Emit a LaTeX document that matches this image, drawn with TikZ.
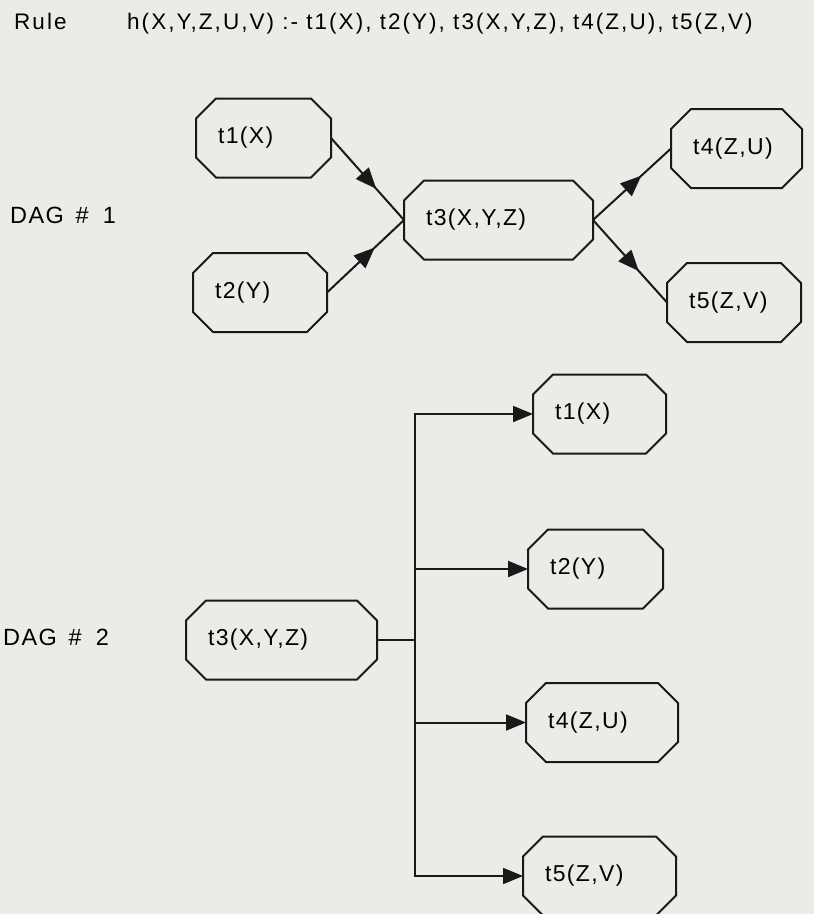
\documentclass[tikz,border=0pt]{standalone}
\usepackage{fontspec}
\setmainfont{Liberation Sans}
\newfontfamily\headface[LetterSpace=9]{Liberation Sans}
\newfontfamily\termface[LetterSpace=6]{Liberation Sans}
\usetikzlibrary{arrows.meta,decorations.markings}
\definecolor{paper}{RGB}{235,235,232}
\definecolor{ink}{RGB}{25,25,25}

\begin{document}
\begin{tikzpicture}[x=1pt,y=-1pt,
    link/.style={draw=ink, line width=2pt},
    term/.style={rectangle, outer sep=0pt, inner xsep=22pt, inner ysep=0pt,
      minimum height=79pt, text width=#1, align=left,
      font={\termface\fontsize{23}{28}\selectfont},
      append after command={\pgfextra{\draw[link]
        ([xshift=20pt]\tikzlastnode.north west) -- ([xshift=-20pt]\tikzlastnode.north east)
        -- ([yshift=-20pt]\tikzlastnode.north east) -- ([yshift=20pt]\tikzlastnode.south east)
        -- ([xshift=-20pt]\tikzlastnode.south east) -- ([xshift=20pt]\tikzlastnode.south west)
        -- ([yshift=20pt]\tikzlastnode.south west) -- ([yshift=-20pt]\tikzlastnode.north west)
        -- cycle;}}},
    label/.style={anchor=base west, inner sep=0pt},
    tip/.style={-{Triangle[length=20pt,width=16pt]}},
    midtip/.style={postaction={decorate}, decoration={markings,
      mark=at position 0.62 with {\arrow{Triangle[length=21pt,width=17pt]}}}}]
  \fill[paper] (0,0) rectangle (814,914);
  \useasboundingbox (0,0) rectangle (814,914);

  % the rule
  \node[label, font={\headface\fontsize{22.5}{27}\selectfont}] (rule) at (14,29) {Rule};
  \node[label, font={\headface\fontsize{22.5}{27}\selectfont}] (body) at (127,29)
    {h(X,Y,Z,U,V) :- t1(X), t2(Y), t3(X,Y,Z), t4(Z,U), t5(Z,V)};

  % DAG 1
  \node[label, font={\termface\fontsize{23.5}{28}\selectfont}] (dag1) at (10,223)
    {DAG\hspace{0.5em}\#\hspace{0.6em}1};
  \node[term=91pt]  (t1a) at (263.5,138) {t1(X)};
  \node[term=90pt]  (t2a) at (260,292.5) {t2(Y)};
  \node[term=145pt] (t3a) at (498.5,220) {t3(X,Y,Z)};
  \node[term=87pt]  (t4a) at (736.5,148.5) {t4(Z,U)};
  \node[term=90pt]  (t5a) at (734,302.5) {t5(Z,V)};
  \foreach \src in {t1a,t2a}
    \draw[link,midtip] (\src.east) -- (t3a.west);
  \foreach \dst in {t4a,t5a}
    \draw[link,midtip] (t3a.east) -- (\dst.west);

  % DAG 2
  \node[label, font={\termface\fontsize{23.5}{28}\selectfont}] (dag2) at (3,645)
    {DAG\hspace{0.5em}\#\hspace{0.6em}2};
  \node[term=147pt] (t3b) at (281.5,640) {t3(X,Y,Z)};
  \node[term=89pt]  (t1b) at (599.5,414) {t1(X)};
  \node[term=91pt]  (t2b) at (595.5,569) {t2(Y)};
  \node[term=108pt] (t4b) at (602,722.5) {t4(Z,U)};
  \node[term=109pt] (t5b) at (599.5,876) {t5(Z,V)};
  \coordinate (fork) at (415,640);
  \draw[link] (t3b.east) -- (fork);
  \foreach \dst in {t1b,t2b,t4b,t5b}
    \draw[link,tip] (fork) |- (\dst.west);
\end{tikzpicture}
\end{document}
